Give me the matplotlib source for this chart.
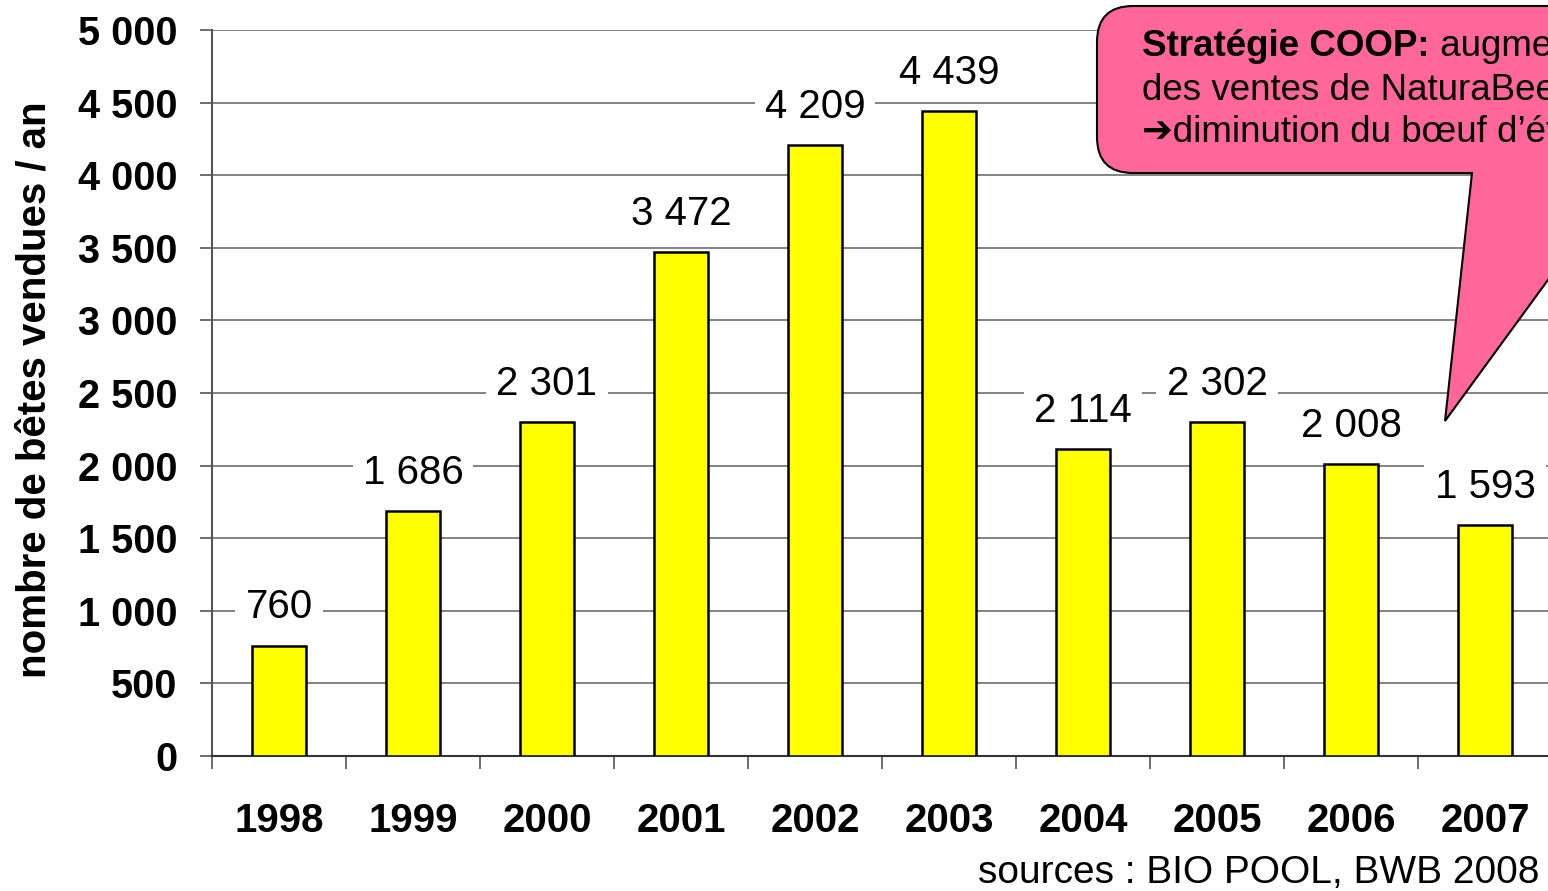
import matplotlib
matplotlib.use("Agg")
import matplotlib.pyplot as plt
from matplotlib.path import Path
from matplotlib.patches import PathPatch
from matplotlib.text import Annotation
import numpy as np

years = ["1998", "1999", "2000", "2001", "2002", "2003", "2004", "2005", "2006", "2007"]
values = [760, 1686, 2301, 3472, 4209, 4439, 2114, 2302, 2008, 1593]
value_labels = ["760", "1 686", "2 301", "3 472", "4 209", "4 439", "2 114", "2 302", "2 008", "1 593"]
yticks = [0, 500, 1000, 1500, 2000, 2500, 3000, 3500, 4000, 4500, 5000]
ytick_labels = ["0", "500", "1 000", "1 500", "2 000", "2 500", "3 000", "3 500", "4 000", "4 500", "5 000"]

plt.rcParams['font.family'] = ['Liberation Sans', 'DejaVu Sans']

W, H = 1548, 891
fig = plt.figure(figsize=(W / 100, H / 100), dpi=100)
left_px, right_px, top_px, bottom_px = 212, 1552, 30, 756
ax = fig.add_axes([left_px / W, 1 - bottom_px / H, (right_px - left_px) / W, (bottom_px - top_px) / H])

x = np.arange(len(years))
ax.bar(x, values, width=0.4, color="#FFFF00", edgecolor="black", linewidth=1.8, zorder=3)
ax.set_xlim(-0.5, len(years) - 0.5)
ax.set_ylim(0, 5000)

ax.set_yticks(yticks)
ax.set_yticklabels(ytick_labels, fontsize=28.5, fontweight="bold")
ax.yaxis.grid(True, color="#6e6e6e", linewidth=1.2, zorder=0)
ax.set_axisbelow(True)
ax.tick_params(axis="y", direction="out", length=9, width=1.2, color="#555555", pad=16)

ax.set_xticks(x)
ax.set_xticklabels(years, fontsize=29, fontweight="bold")
ax.set_xticks(np.arange(len(years) + 1) - 0.5, minor=True)
ax.tick_params(axis="x", which="major", length=0, pad=33)
ax.tick_params(axis="x", which="minor", direction="out", length=9, width=1.2, color="#555555")

for s in ["top", "right"]:
    ax.spines[s].set_visible(False)
ax.spines["left"].set_color("#555555")
ax.spines["left"].set_linewidth(1.5)
ax.spines["bottom"].set_color("#333333")
ax.spines["bottom"].set_linewidth(1.5)

for xi, v, lab in zip(x, values, value_labels):
    ax.annotate(lab, (xi, v), xytext=(0, 27.5), textcoords="offset points",
                ha="center", va="center", fontsize=29, zorder=4,
                bbox=dict(boxstyle="square,pad=0.25", fc="white", ec="none"))

fig.text(35 / W, 1 - 390 / H, "nombre de bêtes vendues / an", rotation=90,
         ha="center", va="center", fontsize=29, fontweight="bold")
fig.text(1540 / W, 1 - 873 / H, "sources : BIO POOL, BWB 2008", ha="right", va="center", fontsize=28)

# callout shape (pixel coords, y down)
def P(px, py):
    return (px / W, 1 - py / H)

L, T, B, R = 1097, 6, 173, 1720
r = 36
verts = [P(L + r, T), P(R, T), P(R, B), P(1626, B), P(1445, 421), P(1472, B), P(L + r, B),
         P(L, B), P(L, B - r),
         P(L, T + r),
         P(L, T), P(L + r, T), P(L + r, T)]
codes = [Path.MOVETO, Path.LINETO, Path.LINETO, Path.LINETO, Path.LINETO, Path.LINETO, Path.LINETO,
         Path.CURVE3, Path.CURVE3,
         Path.LINETO,
         Path.CURVE3, Path.CURVE3, Path.CLOSEPOLY]
patch = PathPatch(Path(verts, codes), transform=fig.transFigure, facecolor="#FF6699",
                  edgecolor="black", linewidth=1.5, zorder=10)
fig.patches.append(patch)

t1 = fig.text(1142 / W, 1 - 46 / H, "Stratégie COOP:", fontsize=26.5, fontweight="bold",
              va="center", ha="left", zorder=11)
a2 = Annotation(" augmentation", xy=(1, 0.5), xycoords=t1, va="center", ha="left",
                fontsize=26.5, zorder=11)
fig.add_artist(a2)
fig.text(1142 / W, 1 - 90 / H, "des ventes de NaturaBeef", fontsize=26.5, va="center", ha="left", zorder=11)
fig.text(1142 / W, 1 - 133 / H, "➔diminution du bœuf d’étal", fontsize=26.5, va="center", ha="left", zorder=11)

fig.savefig("out.png", dpi=100)
